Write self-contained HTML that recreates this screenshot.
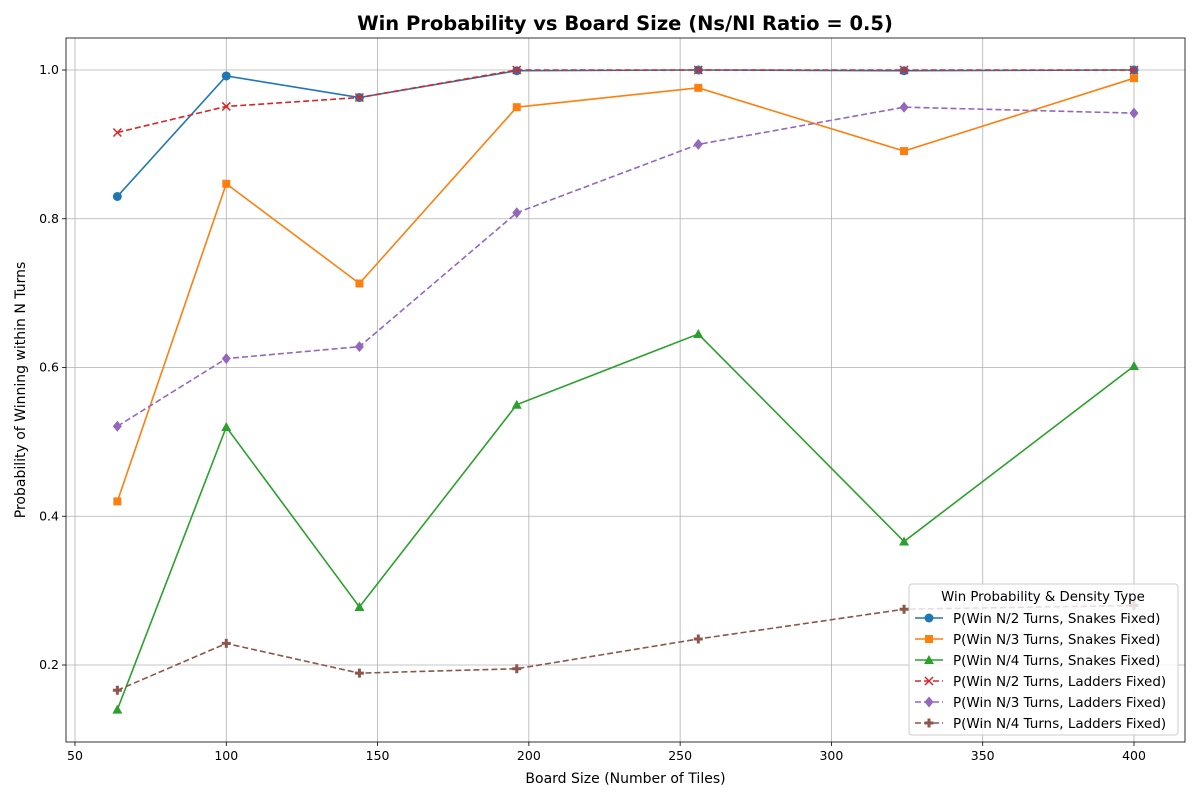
<!DOCTYPE html>
<html><head><meta charset="utf-8"><style>
body{margin:0;background:#fff;font-family:"Liberation Sans","DejaVu Sans",sans-serif;}
svg text{font-family:"DejaVu Sans","Liberation Sans",sans-serif;}
</style></head><body>
<svg id="chart" width="1200" height="800" xmlns="http://www.w3.org/2000/svg"></svg>
<script>
const boardSizes=[64,100,144,196,256,324,400];
const snakesN2=[0.83,0.992,0.963,0.999,1.0,0.999,1.0];
const snakesN3=[0.42,0.847,0.713,0.95,0.976,0.891,0.989];
const snakesN4=[0.14,0.52,0.278,0.55,0.645,0.366,0.602];
const laddersN2=[0.916,0.951,0.963,1.0,1.0,1.0,1.0];
const laddersN3=[0.521,0.612,0.628,0.808,0.9,0.95,0.942];
const laddersN4=[0.166,0.229,0.189,0.195,0.235,0.275,0.28];
const xTicks=[50,100,150,200,250,300,350,400];
const yTicks=[0.2,0.4,0.6,0.8,1.0];
const seriesLabels=["P(Win N/2 Turns, Snakes Fixed)","P(Win N/3 Turns, Snakes Fixed)","P(Win N/4 Turns, Snakes Fixed)","P(Win N/2 Turns, Ladders Fixed)","P(Win N/3 Turns, Ladders Fixed)","P(Win N/4 Turns, Ladders Fixed)"];

const NS="http://www.w3.org/2000/svg";
const svg=document.getElementById('chart');
const L=66,R=1185,T=38,B=742;
const xs=v=>75+(v-50)*(1059/350);
const ys=v=>70+(1.0-v)*743.75;
function mk(tag,attrs,parent){const e=document.createElementNS(NS,tag);for(const k in attrs)e.setAttribute(k,attrs[k]);(parent||svg).appendChild(e);return e;}

const title=mk('text',{x:625,y:30,'text-anchor':'middle','font-size':19.5,'font-weight':'bold'});
title.textContent='Win Probability vs Board Size (Ns/Nl Ratio = 0.5)';



const grid=mk('g',{});


xTicks.forEach(t=>{
  const x=xs(t);
  mk('line',{x1:x,x2:x,y1:T,y2:B,stroke:'#b0b0b0','stroke-width':0.8},grid);
  mk('line',{x1:x,x2:x,y1:B,y2:B+4,stroke:'#000','stroke-width':0.8});
  const tx=mk('text',{x:x,y:B+18,'text-anchor':'middle','font-size':12.5});
  tx.textContent=t;
  
  
});
yTicks.forEach(t=>{
  const y=ys(t);
  mk('line',{x1:L,x2:R,y1:y,y2:y,stroke:'#b0b0b0','stroke-width':0.8},grid);
  mk('line',{x1:L-4,x2:L,y1:y,y2:y,stroke:'#000','stroke-width':0.8});
  const tx=mk('text',{x:L-7,y:y+4,'text-anchor':'end','font-size':12.5});
  tx.textContent=t.toFixed(1);
  
  
});
const frame=mk('rect',{x:L,y:T,width:R-L,height:B-T,fill:'none',stroke:'#000','stroke-width':0.8});



const xt=mk('text',{x:(L+R)/2,y:783,'text-anchor':'middle','font-size':14});
xt.textContent='Board Size (Number of Tiles)';


const yt=mk('text',{x:0,y:0,'text-anchor':'middle','font-size':14,transform:`translate(25,${(T+B)/2}) rotate(-90)`});
yt.textContent='Probability of Winning within N Turns';



const series=[
 {d:snakesN2,c:'#1f77b4',m:'circle',dash:null},
 {d:snakesN3,c:'#ff7f0e',m:'square',dash:null},
 {d:snakesN4,c:'#2ca02c',m:'triangle',dash:null},
 {d:laddersN2,c:'#d62728',m:'x',dash:'6,3'},
 {d:laddersN3,c:'#9467bd',m:'diamond',dash:'6,3'},
 {d:laddersN4,c:'#8c564b',m:'plus',dash:'6,3'}
];
function marker(g,type,x,y,c){
  if(type==='circle')return mk('circle',{cx:x,cy:y,r:4.5,fill:c},g);
  if(type==='square')return mk('rect',{x:x-4,y:y-4,width:8,height:8,fill:c},g);
  if(type==='triangle')return mk('polygon',{points:`${x},${y-5} ${x-5},${y+4} ${x+5},${y+4}`,fill:c},g);
  if(type==='diamond')return mk('polygon',{points:`${x},${y-5.5} ${x+4.5},${y} ${x},${y+5.5} ${x-4.5},${y}`,fill:c},g);
  if(type==='x')return mk('path',{d:`M${x-4},${y-4}L${x+4},${y+4}M${x-4},${y+4}L${x+4},${y-4}`,stroke:c,'stroke-width':1.5,fill:'none'},g);
  if(type==='plus')return mk('path',{d:`M${x-4.5},${y}L${x+4.5},${y}M${x},${y-4.5}L${x},${y+4.5}`,stroke:c,'stroke-width':3,fill:'none'},g);
}
series.forEach((s,i)=>{
  const g=mk('g',{});
  
  
  const pts=s.d.map((v,j)=>xs(boardSizes[j])+','+ys(v)).join(' ');
  const a={points:pts,fill:'none',stroke:s.c,'stroke-width':1.6};
  if(s.dash)a['stroke-dasharray']=s.dash;
  mk('polyline',a,g);
  s.d.forEach((v,j)=>{
    const m=marker(g,s.m,xs(boardSizes[j]),ys(v),s.c);
    
    
  });
});

const lg=mk('g',{});


mk('rect',{x:909,y:584,width:269,height:151,rx:3,fill:'#fff','fill-opacity':0.8,stroke:'#ccc'},lg);
const lt=mk('text',{x:1043,y:601,'text-anchor':'middle','font-size':13.3},lg);
lt.textContent='Win Probability & Density Type';
series.forEach((s,i)=>{
  const y=618+i*21;
  const e=mk('g',{},lg);
  
  
  const a={x1:915,x2:943,y1:y,y2:y,stroke:s.c,'stroke-width':1.6};
  if(s.dash)a['stroke-dasharray']=s.dash;
  mk('line',a,e);
  marker(e,s.m,929,y,s.c);
  const t=mk('text',{x:953,y:y+5,'font-size':13.5},e);
  t.textContent=seriesLabels[i];
});
</script>
</body></html>
